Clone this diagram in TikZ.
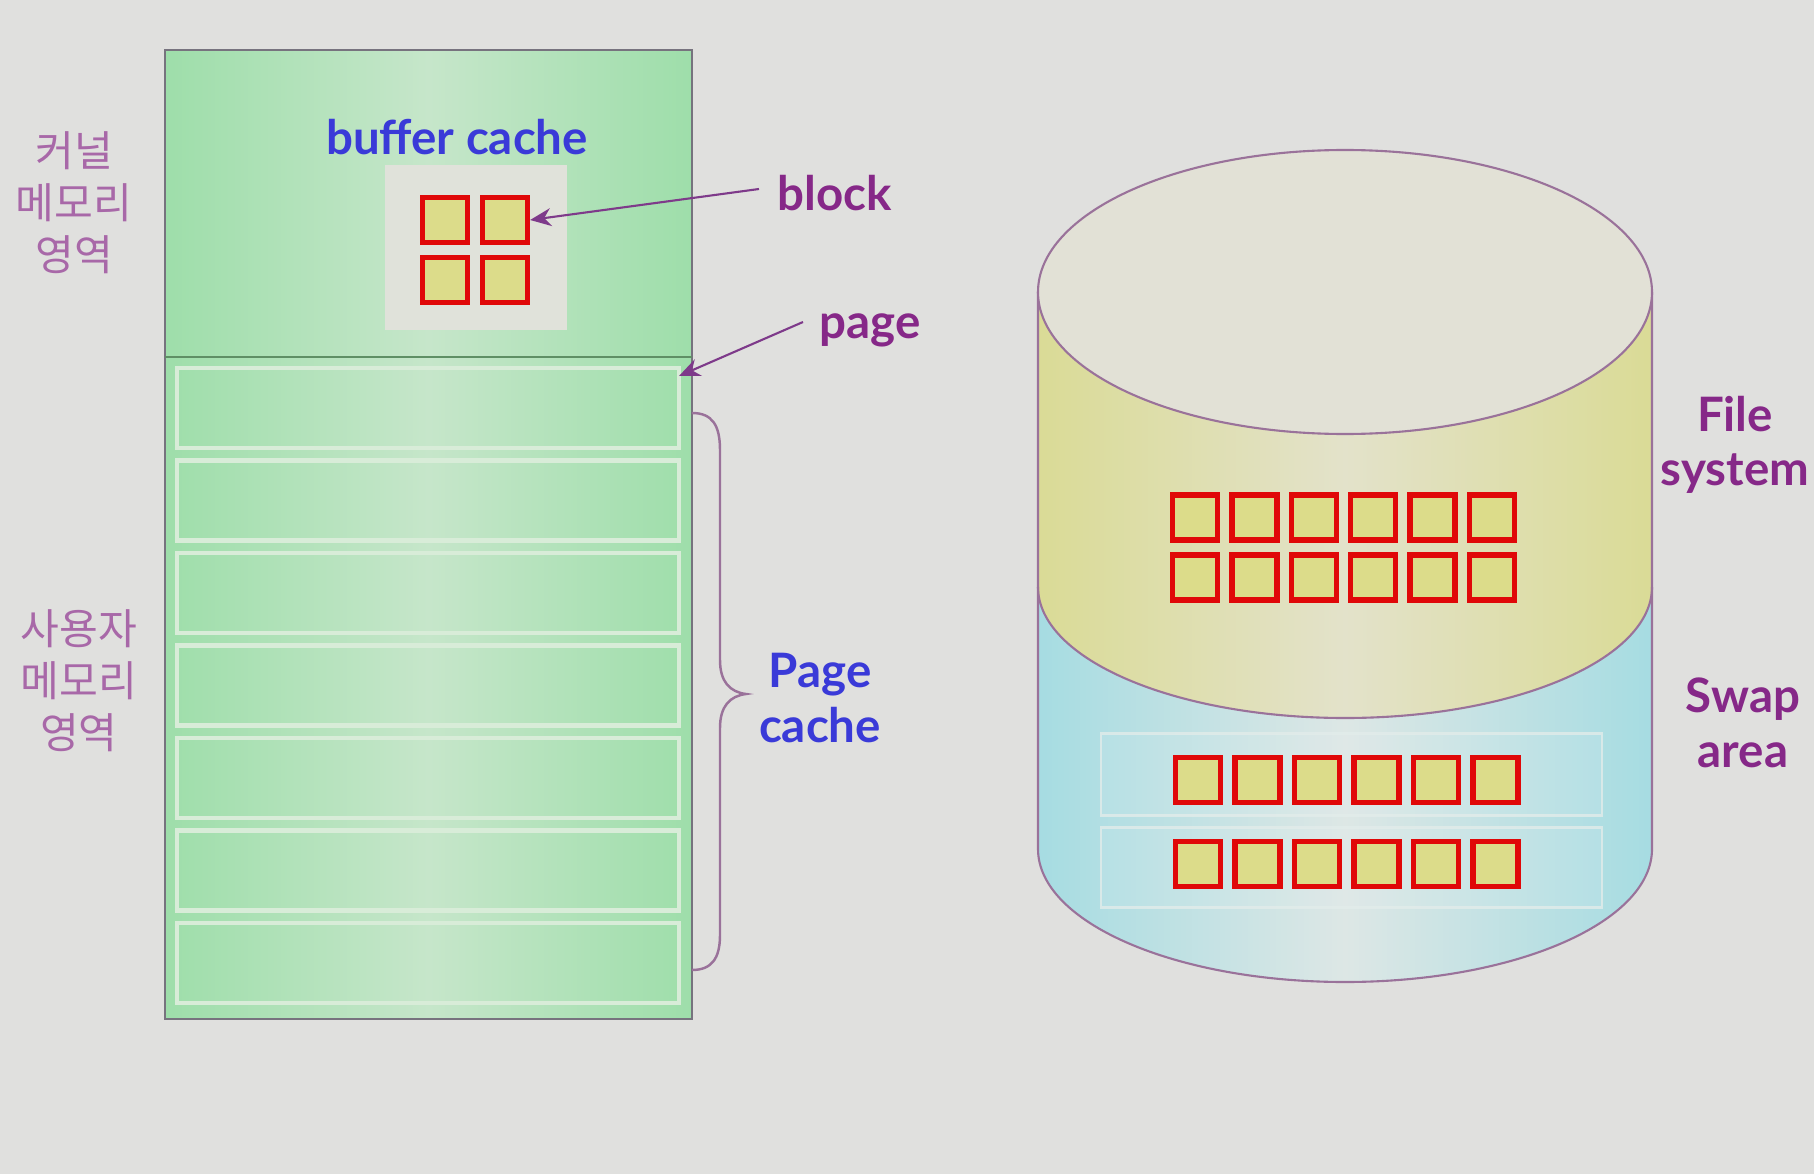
\documentclass[tikz,border=0pt]{standalone}
\usepackage{fontspec}
\setmainfont{Lato}
\newfontfamily\krfont{Noto Sans CJK KR}
\usetikzlibrary{arrows.meta}
\definecolor{bg}{HTML}{E0E0DE}
\definecolor{gedge}{HTML}{9EDEAA}
\definecolor{gmid}{HTML}{C6E6CA}
\definecolor{rowline}{HTML}{D8ECD8}
\definecolor{frame}{HTML}{77737E}
\definecolor{bufbox}{HTML}{E0E2DA}
\definecolor{blkfill}{HTML}{DCDC8A}
\definecolor{blkred}{HTML}{E00808}
\definecolor{txtblue}{HTML}{3A3AD8}
\definecolor{txtpurple}{HTML}{862888}
\definecolor{txtkr}{HTML}{A868A8}
\definecolor{arrcol}{HTML}{7E3A8A}
\definecolor{cyltop}{HTML}{E2E1D6}
\definecolor{yedge}{HTML}{DADB96}
\definecolor{ymid}{HTML}{E3E2CA}
\definecolor{bedge}{HTML}{A6DCE2}
\definecolor{bmid}{HTML}{DDE7E5}
\definecolor{cylline}{HTML}{9A729A}
\definecolor{swapline}{HTML}{E2ECEA}
\tikzset{
  blk/.style={draw=blkred, line width=1.5pt, fill=blkfill, minimum width=4.5mm, minimum height=4.5mm, inner sep=0pt},
  pagerow/.style={draw=rowline, line width=1.2pt, minimum width=50.2mm, minimum height=8mm, inner sep=0pt},
  swaprow/.style={draw=swapline, line width=0.8pt, fill=white, fill opacity=0.08, draw opacity=0.8, minimum width=50.1mm, minimum height=8.2mm, inner sep=0pt},
  arr/.style={draw=arrcol, line width=0.6pt, -{Stealth[length=2.1mm,width=1.8mm]}},
  entxt/.style={font=\bfseries\fontsize{13.5}{15.5}\selectfont, align=center, inner sep=0pt},
  krtxt/.style={font=\krfont\fontsize{12}{14.8}\selectfont, text=txtkr, align=center, inner sep=0pt},
}
\begin{document}
\begin{tikzpicture}[x=0.1mm,y=-0.1mm]
\useasboundingbox (0,0) rectangle (1814,1174);
\fill[bg] (0,0) rectangle (1814,1174);

% ---------- memory (left) ----------
\shade[left color=gedge, right color=gedge, middle color=gmid] (165,50) rectangle (692,1019);
\draw[frame, line width=0.7pt] (165,50) rectangle (692,1019);
\draw[frame!80!green, line width=0.7pt] (165,357) -- (692,357);
\fill[bufbox] (385,165) rectangle (567,330);

\node[blk] (b11) at (445,220) {};
\node[blk] (b12) at (505,220) {};
\node[blk] (b21) at (445,280) {};
\node[blk] (b22) at (505,280) {};

\foreach \i in {0,...,6} {
  \node[pagerow] (p\i) at (428,{408+92.5*\i}) {};
}

\node[entxt, text=txtblue] (bclbl) at (457,137) {buffer cache};
\node[entxt, text=txtpurple, anchor=west] (blocklbl) at (777,193) {block};
\node[entxt, text=txtpurple, anchor=west] (pagelbl) at (819,330) {page};
\node[entxt, text=txtblue] (pclbl) at (820,698) {Page\\cache};

\coordinate (pgtip) at (679,376);
\draw[arr] ([xshift=-1.8mm,yshift=0.4mm]blocklbl.west) -- (b12.east);
\draw[arr] ([xshift=-1.6mm,yshift=0.8mm]pagelbl.west) -- (pgtip);

\coordinate (brtop) at (692,413);
\coordinate (brtip) at (746,694);
\coordinate (brbot) at (692,970);
\draw[cylline, line width=0.7pt] (brtop) .. controls (712,413) and (720,425) .. (720,450)
  -- (720,660) .. controls (720,682) and (730,692) .. (brtip)
  .. controls (730,696) and (720,706) .. (720,728)
  -- (720,935) .. controls (720,958) and (712,970) .. (brbot);

\node[krtxt] (krtop) at (74,203) {커널\\메모리\\영역};
\node[krtxt] (krbot) at (79,681) {사용자\\메모리\\영역};

% ---------- disk (right) ----------
\shade[left color=bedge, right color=bedge, middle color=bmid]
  (1038,500) -- (1038,849) arc[start angle=180, end angle=0, x radius=307, y radius=133] -- (1652,500) -- cycle;
\shade[left color=yedge, right color=yedge, middle color=ymid]
  (1038,292) -- (1038,587) arc[start angle=180, end angle=0, x radius=307, y radius=131] -- (1652,292) -- cycle;
\draw[cylline, line width=0.6pt] (1038,587) arc[start angle=180, end angle=0, x radius=307, y radius=131];
\draw[cylline, line width=0.6pt] (1038,292) -- (1038,849) arc[start angle=180, end angle=0, x radius=307, y radius=133] -- (1652,292);
\filldraw[fill=cyltop, draw=cylline, line width=0.6pt] (1345,292) ellipse[x radius=307, y radius=142];

\node[swaprow] (s1) at (1351.5,774.5) {};
\node[swaprow, minimum height=8.0mm] (s2) at (1351.5,867.5) {};

\foreach \i in {0,...,5} {
  \node[blk] (f1\i) at ({1195+59.4*\i},517.5) {};
  \node[blk] (f2\i) at ({1195+59.4*\i},577.5) {};
  \node[blk] (w1\i) at ({1198+59.5*\i},780) {};
  \node[blk] (w2\i) at ({1198+59.5*\i},864) {};
}

\node[entxt, text=txtpurple] (fslbl) at (1735,445) {File\\system};
\node[entxt, text=txtpurple] (swlbl) at (1743,723) {Swap\\area};
\end{tikzpicture}
\end{document}
